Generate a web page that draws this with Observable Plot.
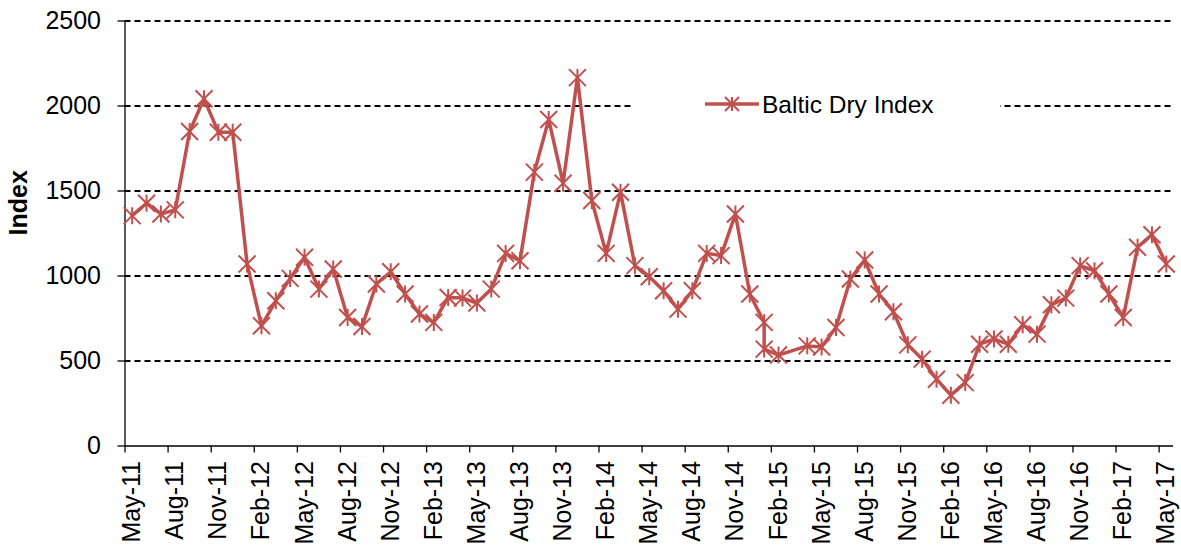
<!DOCTYPE html>
<html>
<head>
<meta charset="utf-8">
<script src="https://cdn.jsdelivr.net/npm/d3@7"></script>
<script src="https://cdn.jsdelivr.net/npm/@observablehq/plot@0.6"></script>
<style>
  html, body { margin: 0; padding: 0; background: white; }
  #chart { width: 1181px; height: 550px; }
</style>
</head>
<body>
<div id="chart"></div>
<script>
// Month of each observation (YYYY-MM). Jan-15 has two readings, Mar-15 none.
const months = [
  "2011-05","2011-06","2011-07","2011-08","2011-09","2011-10","2011-11","2011-12",
  "2012-01","2012-02","2012-03","2012-04","2012-05","2012-06","2012-07","2012-08","2012-09","2012-10","2012-11","2012-12",
  "2013-01","2013-02","2013-03","2013-04","2013-05","2013-06","2013-07","2013-08","2013-09","2013-10","2013-11","2013-12",
  "2014-01","2014-02","2014-03","2014-04","2014-05","2014-06","2014-07","2014-08","2014-09","2014-10","2014-11","2014-12",
  "2015-01","2015-01","2015-02","2015-04","2015-05","2015-06","2015-07","2015-08","2015-09","2015-10","2015-11","2015-12",
  "2016-01","2016-02","2016-03","2016-04","2016-05","2016-06","2016-07","2016-08","2016-09","2016-10","2016-11","2016-12",
  "2017-01","2017-02","2017-03","2017-04","2017-05"
];
const bdiValues = [
  1355,1428,1365,1389,1850,2043,1846,1846,
  1071,707,854,986,1110,923,1041,756,703,953,1025,894,
  776,727,874,870,841,923,1133,1090,1611,1921,1546,2167,
  1444,1133,1493,1061,996,913,805,913,1133,1120,1365,894,
  727,570,535,589,582,697,982,1094,894,790,595,511,
  393,299,373,599,629,599,713,658,831,870,1061,1031,
  894,756,1169,1243,1071
];
const xTickLabels = [
  "May-11","Aug-11","Nov-11","Feb-12","May-12","Aug-12","Nov-12","Feb-13","May-13",
  "Aug-13","Nov-13","Feb-14","May-14","Aug-14","Nov-14","Feb-15","May-15","Aug-15",
  "Nov-15","Feb-16","May-16","Aug-16","Nov-16","Feb-17","May-17"
];
const yTicks = [0, 500, 1000, 1500, 2000, 2500];
const seriesName = "Baltic Dry Index";
const yLabel = "Index";

const RED = "#C0504D";
const FONT = "'Liberation Sans', Arial, Helvetica, sans-serif";

// month index from May-11
const monthIndex = s => { const [y, m] = s.split("-").map(Number); return (y - 2011) * 12 + (m - 5); };
const data = months.map((m, k) => ({ i: monthIndex(m), v: bdiValues[k] }));
const labelPos = xTickLabels.map((_, k) => k * 3);
const tickPos = labelPos.map(p => p - 0.5);

// Excel-like star marker: X plus vertical bar
const star = {
  draw(context, size) {
    const h = Math.sqrt(size / Math.PI);
    context.moveTo(-h, -h); context.lineTo(h, h);
    context.moveTo(h, -h); context.lineTo(-h, h);
    context.moveTo(0, -h); context.lineTo(0, h);
  }
};

const chart = Plot.plot({
  width: 1181,
  height: 550,
  marginLeft: 124.5,
  marginRight: 8,
  marginTop: 20.5,
  marginBottom: 104.5,
  style: { fontFamily: FONT, fontSize: "25px", color: "black", background: "white", overflow: "visible" },
  x: { domain: [-0.5, 72.5] },
  y: { domain: [0, 2500] },
  marks: [
    Plot.ruleY(yTicks.filter(d => d > 0), { stroke: "black", strokeWidth: 1.8, strokeDasharray: "6,4" }),
    Plot.axisY({ ticks: yTicks, tickSize: 7, tickPadding: 17, tickFormat: d => String(d), label: null, fontSize: 25, strokeWidth: 1.3 }),
    Plot.axisX({ ticks: tickPos, tickSize: 7, fill: "none", label: null, strokeWidth: 1.3 }),
    Plot.axisX({ ticks: labelPos, tickSize: 0, tickPadding: 15, tickRotate: -90, tickFormat: d => xTickLabels[Math.round(d / 3)], label: null, fontSize: 25 }),
    Plot.ruleY([0], { stroke: "black", strokeWidth: 1.3 }),
    Plot.ruleX([-0.5], { stroke: "black", strokeWidth: 1.3 }),
    Plot.text([yLabel], { frameAnchor: "left", rotate: -90, dx: -106, dy: 2, fontWeight: "bold", fontSize: 25 }),
    Plot.line(data, { x: "i", y: "v", stroke: RED, strokeWidth: 3.5, strokeLinejoin: "round" }),
    Plot.dot(data, { x: "i", y: "v", symbol: star, r: 8.5, stroke: RED, strokeWidth: 2, fill: "none" })
  ]
});

// Legend box (white background over the 2000 gridline)
const svg = d3.select(chart);
const lg = svg.append("g").attr("class", "legend");
lg.append("rect").attr("x", 633).attr("y", 87).attr("width", 367).attr("height", 34).attr("fill", "white");
lg.append("line").attr("x1", 705).attr("x2", 759).attr("y1", 104).attr("y2", 104)
  .attr("stroke", RED).attr("stroke-width", 3.5);
lg.append("path").attr("transform", "translate(732,104)")
  .attr("d", d3.symbol(star, Math.PI * 7 * 7)())
  .attr("stroke", RED).attr("stroke-width", 2).attr("fill", "none");
lg.append("text").attr("x", 762).attr("y", 104).attr("dy", "0.35em")
  .attr("text-anchor", "start")
  .attr("font-family", FONT).attr("font-size", "24.5px").attr("fill", "black")
  .text(seriesName);

document.getElementById("chart").appendChild(chart);
</script>
</body>
</html>
